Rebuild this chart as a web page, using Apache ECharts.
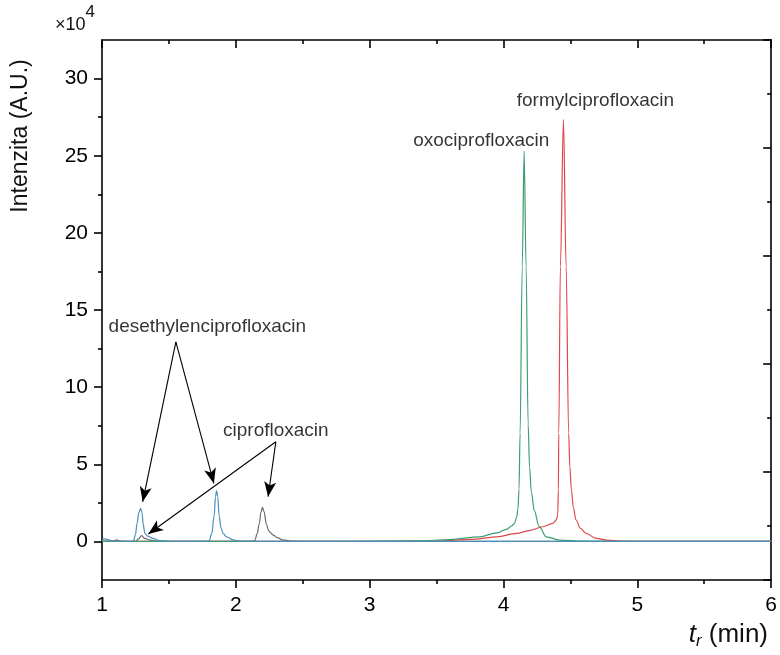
<!DOCTYPE html>
<html>
<head>
<meta charset="utf-8">
<script src="https://cdn.jsdelivr.net/npm/echarts@6/dist/echarts.min.js"></script>
<style>
  html, body { margin: 0; padding: 0; background: #ffffff; }
  #chart { width: 780px; height: 655px; }
</style>
</head>
<body>
<div id="chart"></div>
<script>
// Chromatogram traces: [retention time (min), intensity (x10^4 A.U.)]
const desethylenciprofloxacin = [
  [1.00, 0.10], [1.02, 0.17], [1.05, 0.10], [1.08, 0.03], [1.15, 0.01], [1.22, 0.00],
  [1.235, 0.03], [1.25, 0.45], [1.262, 1.15], [1.274, 1.85], [1.289, 2.15], [1.299, 1.85],
  [1.308, 1.10], [1.32, 0.52], [1.34, 0.35], [1.38, 0.20], [1.43, 0.05], [1.50, 0.01],
  [1.70, 0.00], [1.80, 0.02], [1.82, 0.50], [1.838, 1.65], [1.848, 2.90], [1.856, 3.29],
  [1.865, 2.90], [1.875, 1.65], [1.89, 0.85], [1.905, 0.52], [1.93, 0.30], [1.98, 0.10],
  [2.03, 0.02], [2.20, 0.00], [3.00, 0.00], [4.00, 0.00], [5.00, 0.00], [6.00, 0.00]
];
const ciprofloxacin = [
  [1.00, 0.00], [1.25, 0.00], [1.27, 0.15], [1.296, 0.37], [1.32, 0.20], [1.36, 0.08],
  [1.40, 0.02], [1.50, 0.00], [2.10, 0.00], [2.14, 0.03], [2.16, 0.50], [2.174, 1.10],
  [2.188, 1.90], [2.199, 2.21], [2.21, 1.95], [2.229, 1.10], [2.245, 0.70], [2.26, 0.55],
  [2.28, 0.41], [2.31, 0.25], [2.35, 0.10], [2.43, 0.02], [2.60, 0.00], [4.00, 0.00],
  [5.00, 0.00], [6.00, 0.00]
];
const oxociprofloxacin = [
  [1.00, 0.00], [2.80, 0.00], [3.37, 0.03], [3.60, 0.12], [3.82, 0.30], [3.95, 0.55],
  [4.02, 0.78], [4.06, 1.00], [4.082, 1.17], [4.098, 1.55], [4.108, 2.10], [4.116, 3.40],
  [4.124, 7.00], [4.140, 17.8], [4.154, 25.3], [4.169, 17.8], [4.184, 7.60], [4.195, 4.80],
  [4.208, 3.20], [4.230, 2.00], [4.266, 0.98], [4.319, 0.30], [4.418, 0.09], [4.60, 0.02],
  [5.00, 0.00], [6.00, 0.00]
];
const formylciprofloxacin = [
  [1.00, 0.00], [1.08, 0.02], [1.11, 0.10], [1.14, 0.02], [1.20, 0.00], [3.00, 0.00],
  [3.55, 0.04], [3.80, 0.15], [3.95, 0.30], [4.095, 0.52], [4.20, 0.72], [4.293, 0.95],
  [4.368, 1.17], [4.395, 1.40], [4.405, 1.71], [4.410, 3.34], [4.413, 7.00], [4.425, 17.8],
  [4.448, 27.35], [4.468, 17.8], [4.487, 7.00], [4.496, 4.84], [4.507, 3.34], [4.522, 2.20],
  [4.542, 1.39], [4.575, 0.85], [4.617, 0.52], [4.692, 0.20], [4.766, 0.09], [4.90, 0.02],
  [5.20, 0.00], [6.00, 0.00]
];

// Axis ticks
const xRange = [1, 6];
const yRange = [-2.5, 32.5];
const yTickLabels = [0, 5, 10, 15, 20, 25, 30];
const yMinorTicks = [2.5, 7.5, 12.5, 17.5, 22.5, 27.5];

// Peak labels and their arrows (data coordinates)
const peakLabels = [
  { name: 'desethylenciprofloxacin', at: [1.787, 13.9] },
  { name: 'ciprofloxacin', at: [2.299, 7.16] },
  { name: 'oxociprofloxacin', at: [3.834, 26.0] },
  { name: 'formylciprofloxacin', at: [4.687, 28.55] }
];
const arrows = [
  { from: [1.552, 12.94], to: [1.304, 2.57] },
  { from: [1.552, 12.94], to: [1.836, 3.76] },
  { from: [2.299, 6.46], to: [1.346, 0.48] },
  { from: [2.299, 6.46], to: [2.241, 2.90] }
];

const FONT = "'Liberation Sans', Arial, sans-serif";
const chart = echarts.init(document.getElementById('chart'), null, { renderer: 'canvas' });

function trace(name, data, color, z) {
  return {
    name: name,
    type: 'line',
    data: data,
    xAxisIndex: 0,
    yAxisIndex: 0,
    showSymbol: false,
    smooth: 0.35,
    smoothMonotone: 'x',
    lineStyle: { color: color, width: 1.2 },
    z: z,
    silent: true,
    animation: false
  };
}

const axisLine = { show: true, onZero: false, lineStyle: { color: '#000', width: 1.6 } };
const tickStyle = { color: '#000', width: 1.6 };

chart.setOption({
  animation: false,
  backgroundColor: '#ffffff',
  grid: { left: 102, right: 8, top: 40, bottom: 75, containLabel: false },
  xAxis: [
    {
      type: 'value', position: 'bottom', min: xRange[0], max: xRange[1], interval: 1,
      axisLine: axisLine,
      axisTick: { show: true, inside: false, length: 8, lineStyle: tickStyle },
      minorTick: { show: true, splitNumber: 2, length: 4, lineStyle: tickStyle },
      axisLabel: { show: true, margin: 15, color: '#000', fontSize: 21, fontFamily: FONT },
      splitLine: { show: false }
    },
    {
      type: 'value', position: 'top', min: xRange[0], max: xRange[1], interval: 1,
      axisLine: axisLine,
      axisTick: { show: true, inside: true, length: 8, lineStyle: tickStyle },
      minorTick: { show: true, splitNumber: 2, length: 4, lineStyle: tickStyle },
      axisLabel: { show: false },
      splitLine: { show: false }
    }
  ],
  yAxis: [
    {
      type: 'value', position: 'left', min: yRange[0], max: yRange[1], interval: 2.5,
      axisLine: axisLine,
      axisTick: { show: true, inside: false, length: 8, customValues: yTickLabels, lineStyle: tickStyle },
      axisLabel: { show: true, margin: 14, color: '#000', fontSize: 21, fontFamily: FONT,
        customValues: yTickLabels },
      splitLine: { show: false }
    },
    {
      type: 'value', position: 'left', min: yRange[0], max: yRange[1], interval: 2.5,
      axisLine: { show: false },
      axisTick: { show: true, inside: false, length: 4, customValues: yMinorTicks, lineStyle: tickStyle },
      axisLabel: { show: false },
      splitLine: { show: false }
    },
    {
      type: 'value', position: 'right', min: 0, max: 5, interval: 1,
      axisLine: axisLine,
      axisTick: { show: true, inside: true, length: 8, lineStyle: tickStyle },
      minorTick: { show: true, splitNumber: 2, length: 4, lineStyle: tickStyle },
      axisLabel: { show: false },
      splitLine: { show: false }
    }
  ],
  series: [
    trace('ciprofloxacin', ciprofloxacin, '#6a6a6a', 2),
    trace('formylciprofloxacin', formylciprofloxacin, '#e0474c', 3),
    trace('oxociprofloxacin', oxociprofloxacin, '#3e9e70', 4),
    trace('desethylenciprofloxacin', desethylenciprofloxacin, '#4a8fbd', 5),
    {
      name: 'labels',
      type: 'scatter',
      xAxisIndex: 0,
      yAxisIndex: 0,
      symbolSize: 0,
      silent: true,
      z: 10,
      data: peakLabels.map(p => ({ name: p.name, value: p.at })),
      label: {
        show: true, position: 'inside', formatter: '{b}',
        color: '#000', fontSize: 19, fontFamily: FONT
      },
      markLine: {
        silent: true,
        symbol: ['none', 'arrow'],
        symbolSize: [9, 15],
        label: { show: false },
        lineStyle: { color: '#000', width: 1.1, type: 'solid' },
        data: arrows.map(a => [
          { coord: a.from, symbol: 'none' },
          { coord: a.to, symbol: 'arrow' }
        ])
      }
    }
  ],
  graphic: [
    {
      type: 'text', rotation: Math.PI / 2, x: 21, y: 136,
      style: { text: 'Intenzita (A.U.)', fill: '#111', fontSize: 23, fontFamily: FONT,
        textAlign: 'center', textVerticalAlign: 'middle' }
    },
    {
      type: 'text', x: 55, y: 4,
      style: {
        rich: {
          b: { fontSize: 18, fontFamily: FONT, fill: '#111', padding: [12, 0, 0, 0] },
          s: { fontSize: 17, fontFamily: FONT, fill: '#111', verticalAlign: 'top' }
        },
        text: '{b|\u00d710}{s|4}'
      }
    },
    {
      type: 'text', right: 12, top: 622,
      style: {
        rich: {
          t: { fontSize: 26, fontStyle: 'italic', fontFamily: FONT, fill: '#111' },
          r: { fontSize: 17, fontStyle: 'italic', fontFamily: FONT, fill: '#111', padding: [13, 0, 0, 0] },
          m: { fontSize: 26, fontFamily: FONT, fill: '#111' }
        },
        text: '{t|t}{r|r}{m| (min)}'
      }
    }
  ]
});
</script>
</body>
</html>
